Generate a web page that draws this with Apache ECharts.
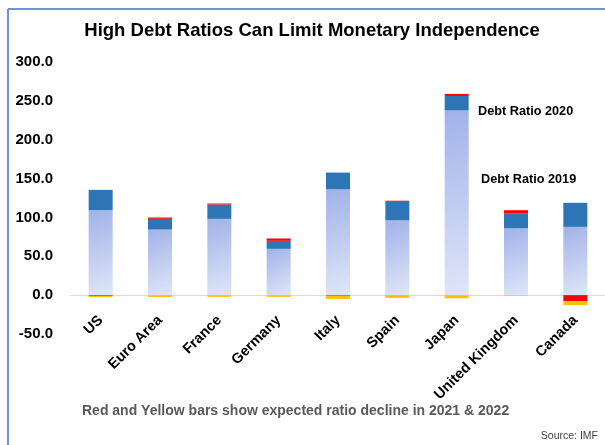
<!DOCTYPE html>
<html>
<head>
<meta charset="utf-8">
<script src="https://cdn.jsdelivr.net/npm/echarts@6/dist/echarts.min.js"></script>
<style>
html,body{margin:0;padding:0;background:#fff;}
#chart{width:605px;height:445px;}
</style>
</head>
<body>
<div id="chart"></div>
<script>
var categories = ['US','Euro Area','France','Germany','Italy','Spain','Japan','United Kingdom','Canada'];
var debt2019 = [109.3, 84.4, 98.2, 59.6, 136.2, 96.2, 237.8, 86.1, 87.9];
var debt2020 = [135.5, 98.2, 116.6, 69.9, 157.7, 121.1, 256.3, 105.4, 118.8];
var change2021 = [-0.9, 1.7, 1.3, 3.0, -0.8, 0.4, 2.6, 3.9, -7.7];
var change2022 = [-1.7, -2.5, -2.2, -2.2, -4.0, -3.5, -4.0, -0.7, -5.1];
var yTicks = {min: -50, max: 300, interval: 50};

var increase2020 = debt2020.map(function (v, i) { return +(v - debt2019[i]).toFixed(1); });

var chart = echarts.init(document.getElementById('chart'), null, {renderer: 'canvas'});
var FONT = 'Liberation Sans';

var option = {
  backgroundColor: '#ffffff',
  animation: false,
  textStyle: {fontFamily: FONT},
  grid: {left: 71, width: 536, top: 62, bottom: 111, containLabel: false},
  xAxis: {
    type: 'category',
    data: categories,
    axisLine: {show: true, onZero: true, lineStyle: {color: '#D9D9D9', width: 1}},
    axisTick: {show: false},
    axisLabel: {rotate: 45, margin: -16, fontFamily: FONT, fontWeight: 'bold', fontSize: 14.5, color: '#000', interval: 0}
  },
  yAxis: {
    type: 'value',
    min: yTicks.min, max: yTicks.max, interval: yTicks.interval,
    axisLine: {show: false},
    axisTick: {show: false},
    splitLine: {show: false},
    axisLabel: {margin: 18, fontFamily: FONT, fontWeight: 'bold', fontSize: 15, color: '#000',
      formatter: function (v) { return v.toFixed(1); }}
  },
  series: [
    {
      name: 'Debt Ratio 2019', type: 'bar', stack: 'debt', barWidth: 24,
      data: debt2019,
      itemStyle: {
        color: new echarts.graphic.LinearGradient(0, 0, 1, 1, [
          {offset: 0, color: '#A0B2E8'},
          {offset: 1, color: '#E0E6F8'}
        ])
      }
    },
    {
      name: 'Debt Ratio 2020', type: 'bar', stack: 'debt', barWidth: 24,
      data: increase2020,
      itemStyle: {color: '#2E75B6'}
    },
    {
      name: '2021', type: 'bar', stack: 'debt', barWidth: 24,
      data: change2021,
      itemStyle: {color: '#FF0000'}
    },
    {
      name: '2022', type: 'bar', stack: 'debt', barWidth: 24,
      data: change2022,
      itemStyle: {color: '#FFC000'}
    }
  ],
  graphic: [
    {type: 'line', shape: {x1: 8, y1: 9, x2: 605, y2: 9}, style: {stroke: '#6F8FDA', lineWidth: 2}},
    {type: 'line', shape: {x1: 8, y1: 9, x2: 8, y2: 445}, style: {stroke: '#6F8FDA', lineWidth: 2}},
    {type: 'text', x: 312, y: 31, style: {text: 'High Debt Ratios Can Limit Monetary Independence', font: 'bold 18.5px "Liberation Sans"', fill: '#000', align: 'center', verticalAlign: 'middle'}},
    {type: 'text', x: 478, y: 111, style: {text: 'Debt Ratio 2020', font: 'bold 12.7px "Liberation Sans"', fill: '#000', align: 'left', verticalAlign: 'middle'}},
    {type: 'text', x: 481, y: 179, style: {text: 'Debt Ratio 2019', font: 'bold 12.7px "Liberation Sans"', fill: '#000', align: 'left', verticalAlign: 'middle'}},
    {type: 'text', x: 82, y: 411, style: {text: 'Red and Yellow bars show expected ratio decline in 2021 & 2022', font: 'bold 14px "Liberation Sans"', fill: '#595959', align: 'left', verticalAlign: 'middle'}},
    {type: 'text', x: 598, y: 436, style: {text: 'Source: IMF', font: '10.5px "Liberation Sans"', fill: '#404040', align: 'right', verticalAlign: 'middle'}}
  ]
};
chart.setOption(option);
</script>
</body>
</html>
